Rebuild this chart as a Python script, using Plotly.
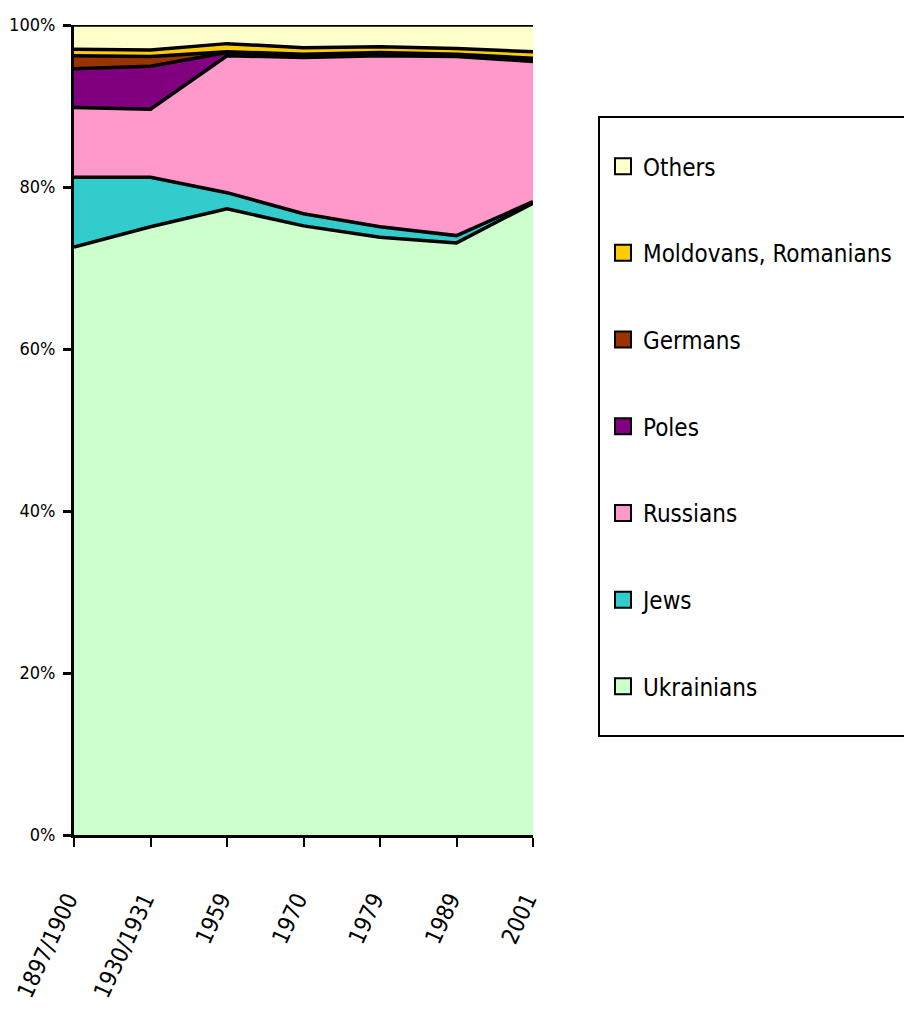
import plotly.graph_objects as go

years = ["1897/1900", "1930/1931", "1959", "1970", "1979", "1989", "2001"]

ukrainians = [72.6, 75.1, 77.3, 75.2, 73.8, 73.1, 78.0]
jews = [8.6, 6.1, 2.0, 1.5, 1.3, 0.9, 0.2]
russians = [8.6, 8.4, 16.9, 19.3, 21.1, 22.1, 17.3]
poles = [4.8, 5.3, 0.4, 0.3, 0.3, 0.2, 0.3]
germans = [1.6, 1.2, 0.1, 0.1, 0.1, 0.1, 0.1]
moldovans = [0.8, 0.8, 1.0, 0.8, 0.7, 0.7, 0.8]
others = [3.0, 3.1, 2.3, 2.8, 2.7, 2.9, 3.3]

series = [
    ("Ukrainians", ukrainians, "#CCFFCC"),
    ("Jews", jews, "#33CCCC"),
    ("Russians", russians, "#FF99CC"),
    ("Poles", poles, "#800080"),
    ("Germans", germans, "#993300"),
    ("Moldovans, Romanians", moldovans, "#FFCC00"),
    ("Others", others, "#FFFFCC"),
]

FONT = "DejaVu Sans Condensed, Liberation Sans, Arial, sans-serif"

fig = go.Figure()
for name, vals, col in series:
    fig.add_trace(go.Scatter(
        x=years, y=vals, name=name, stackgroup="one", groupnorm="percent",
        mode="lines", line=dict(color="black", width=3.5), fillcolor=col,
        showlegend=False, hoverinfo="x+y+name",
    ))
for name, vals, col in reversed(series):
    fig.add_trace(go.Scatter(
        x=[None], y=[None], name=name, mode="markers", legendgroup=name,
        marker=dict(symbol="square", size=16, color=col,
                    line=dict(color="black", width=2)),
    ))

fig.add_shape(type="rect", xref="paper", yref="paper",
              x0=1.1438, x1=1.95, y0=0.1222, y1=0.8864,
              line=dict(color="black", width=2), fillcolor="white", layer="below")

fig.update_layout(
    width=904, height=1026,
    margin=dict(l=66, r=379, t=17, b=199, autoexpand=False),
    paper_bgcolor="white", plot_bgcolor="white",
    font=dict(family=FONT, color="black", size=22),
    legend=dict(
        x=1.1525, y=0.853, xanchor="left", yanchor="top",
        traceorder="grouped", tracegroupgap=52.5,
        borderwidth=0, bgcolor="rgba(0,0,0,0)",
        font=dict(family=FONT, size=24, color="black"),
        itemwidth=30,
    ),
    xaxis=dict(
        type="category", range=[0, 6], showgrid=False,
        showline=True, linecolor="black", linewidth=3,
        ticks="outside", ticklen=9, tickwidth=2, tickcolor="black",
        tickangle=-65, ticklabelstandoff=30, ticklabelshift=-6,
        tickfont=dict(family=FONT, size=23),
    ),
    yaxis=dict(
        range=[0, 100], dtick=20, ticksuffix="%", showgrid=False,
        showline=True, linecolor="black", linewidth=3,
        ticks="outside", ticklen=8, tickwidth=3, tickcolor="black",
        ticklabelstandoff=4,
        tickfont=dict(family=FONT, size=18), zeroline=False,
    ),
)

fig.write_html("out.html")
